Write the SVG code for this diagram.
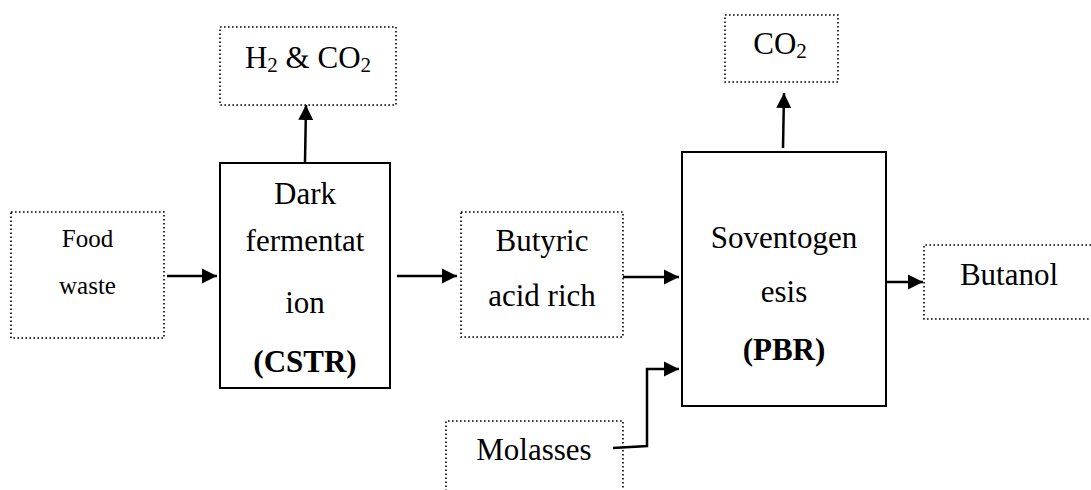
<svg xmlns="http://www.w3.org/2000/svg" width="1091" height="490" viewBox="0 0 1091 490">
<defs>
<style>
.dot{fill:none;stroke:#000;stroke-width:1.6;stroke-dasharray:1.6 2.4}
.solid{fill:none;stroke:#000;stroke-width:2}
.t{font-family:"Liberation Serif","Times New Roman",serif;font-size:31px;fill:#000;text-anchor:middle}
.s{font-size:25px}
.b{font-weight:bold}
.sub{font-size:21px}
.c{fill:none;stroke:#000;stroke-width:2.5}
</style>
<marker id="ah" markerUnits="userSpaceOnUse" markerWidth="16" markerHeight="16" viewBox="0 0 16 16" refX="15" refY="8" orient="auto">
<path d="M0,0.5 L15,8 L0,15.5 Z" fill="#000"/>
</marker>
</defs>
<rect width="1091" height="490" fill="#fff"/>
<g id="h2co2">
<rect class="dot" x="220" y="27" width="176" height="78"/>
<text class="t" x="308" y="68">H<tspan class="sub" dy="4">2</tspan><tspan dy="-4"> &amp; CO</tspan><tspan class="sub" dy="4">2</tspan></text>
</g>
<g id="food">
<rect class="dot" x="11" y="212" width="153" height="126"/>
<text class="t s" x="87.5" y="247">Food</text>
<text class="t s" x="87.5" y="294">waste</text>
</g>
<g id="cstr">
<rect class="solid" x="220" y="163" width="170" height="225"/>
<text class="t" x="305" y="204">Dark</text>
<text class="t" x="305" y="251">fermentat</text>
<text class="t" x="305" y="313">ion</text>
<text class="t b" x="305" y="372">(CSTR)</text>
</g>
<g id="butyric">
<rect class="dot" x="461" y="212" width="162" height="125"/>
<text class="t" x="542" y="251">Butyric</text>
<text class="t" x="542" y="306">acid rich</text>
</g>
<g id="molasses">
<path class="dot" d="M446,495 V421 H623 V495"/>
<text class="t" x="534" y="460">Molasses</text>
</g>
<g id="pbr">
<rect class="solid" x="682" y="152" width="204" height="254"/>
<text class="t" x="784" y="248">Soventogen</text>
<text class="t" x="784" y="302">esis</text>
<text class="t b" x="784" y="360">(PBR)</text>
</g>
<g id="co2">
<rect class="dot" x="725" y="15" width="113" height="67"/>
<text class="t" x="780" y="54">CO<tspan class="sub" dy="4">2</tspan></text>
</g>
<g id="butanol">
<path class="dot" d="M1095,245 H924 V319 H1095"/>
<text class="t" x="1009" y="285">Butanol</text>
</g>
<g id="connectors">
<line class="c" x1="305" y1="162" x2="306" y2="105" marker-end="url(#ah)"/>
<line class="c" x1="167" y1="276" x2="217" y2="276" marker-end="url(#ah)"/>
<line class="c" x1="397" y1="276" x2="457" y2="276" marker-end="url(#ah)"/>
<line class="c" x1="623" y1="277" x2="679" y2="277" marker-end="url(#ah)"/>
<polyline class="c" points="613,448 647,446 647,369 679,369" marker-end="url(#ah)"/>
<line class="c" x1="783" y1="148" x2="784" y2="93" marker-end="url(#ah)"/>
<line class="c" x1="887" y1="282" x2="923" y2="282" marker-end="url(#ah)"/>
</g>
</svg>
